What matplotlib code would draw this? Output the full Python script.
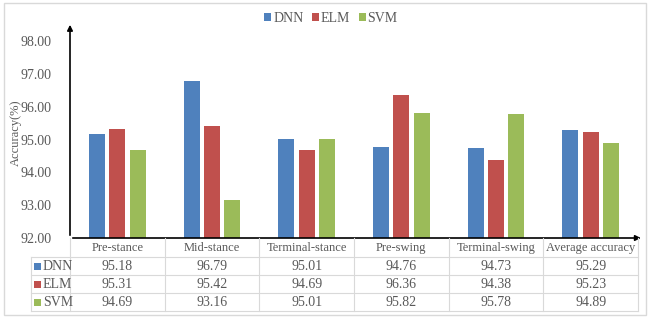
import matplotlib.pyplot as plt
from matplotlib.patches import Rectangle, Patch
from matplotlib.lines import Line2D

# data
phases = ["Pre-stance", "Mid-stance", "Terminal-stance", "Pre-swing", "Terminal-swing", "Average accuracy"]
models = ["DNN", "ELM", "SVM"]
dnn = [95.18, 96.79, 95.01, 94.76, 94.73, 95.29]
elm = [95.31, 95.42, 94.69, 96.36, 94.38, 95.23]
svm = [94.69, 93.16, 95.01, 95.82, 95.78, 94.89]
yticks = [92, 93, 94, 95, 96, 97, 98]

colors = ["#4F81BD", "#C0504D", "#9BBB59"]
txt = "#595959"
grid = "#D9D9D9"

plt.rcParams["font.family"] = ["Liberation Serif", "DejaVu Serif"]

W, H = 650, 319
fig = plt.figure(figsize=(W / 100, H / 100), dpi=100)


def fx(x):
    return x / W


def fy(y):
    return 1 - y / H


# outer frame
fig.patches.append(Rectangle((fx(4), fy(315)), fx(642), 312 / H, transform=fig.transFigure,
                             fill=False, edgecolor=grid, linewidth=1))

ax_l, ax_r, ax_t, ax_b = 70, 638, 22, 238
ax = fig.add_axes([fx(ax_l), fy(ax_b), fx(ax_r - ax_l), (ax_b - ax_t) / H])

series = [dnn, elm, svm]
offsets = [-0.215, 0.0, 0.215]
for vals, off, c in zip(series, offsets, colors):
    ax.bar([i + off for i in range(len(phases))], [v - 92 for v in vals], bottom=92,
           width=0.17, color=c, edgecolor="none")

ax.set_xlim(-0.5, len(phases) - 0.5)
ax.set_ylim(92, 98.58)
ax.set_yticks(yticks)
ax.set_yticklabels([f"{t:.2f}" for t in yticks])
ax.set_xticks([])
ax.tick_params(axis="y", length=0, labelsize=10, labelcolor=txt, pad=13)
for s in ax.spines.values():
    s.set_visible(False)
ax.patch.set_alpha(0)

# arrow axes
ax.annotate("", xy=(0, 1.0), xytext=(0, 0), xycoords="axes fraction",
            arrowprops=dict(arrowstyle="-|>", color="black", lw=1.2, mutation_scale=8))
ax.annotate("", xy=(1.01, 0), xytext=(0, 0), xycoords="axes fraction",
            arrowprops=dict(arrowstyle="-|>", color="black", lw=1.2, mutation_scale=8))

fig.text(fx(16), fy(133), "Accuracy(%)", rotation=90, ha="center", va="center",
         fontsize=9, color=txt)

# data table
col_w = (ax_r - ax_l) / len(phases)
row_lines = [238, 257, 275, 293, 311]
lab_l = 31
tf = fig.transFigure
for k, y in enumerate(row_lines[1:]):
    fig.add_artist(Line2D([fx(lab_l), fx(ax_r)], [fy(y), fy(y)], transform=tf, color=grid, lw=0.8))
fig.add_artist(Line2D([fx(lab_l), fx(lab_l)], [fy(257), fy(311)], transform=tf, color=grid, lw=0.8))
for j in range(len(phases) + 1):
    x = ax_l + j * col_w
    fig.add_artist(Line2D([fx(x), fx(x)], [fy(238), fy(311)], transform=tf, color=grid, lw=0.8))

for j, name in enumerate(phases):
    cx = ax_l + (j + 0.5) * col_w
    fig.text(fx(cx), fy(248), name, ha="center", va="center", fontsize=9, color=txt)
    for i, vals in enumerate(series):
        cy = (row_lines[i + 1] + row_lines[i + 2]) / 2
        fig.text(fx(cx), fy(cy), f"{vals[j]:.2f}", ha="center", va="center", fontsize=10, color=txt)

for i, (m, c) in enumerate(zip(models, colors)):
    cy = (row_lines[i + 1] + row_lines[i + 2]) / 2
    fig.patches.append(Rectangle((fx(34), fy(cy + 3.5)), fx(7), 7 / H, transform=tf,
                                 facecolor=c, edgecolor="none"))
    fig.text(fx(43), fy(cy), m, ha="left", va="center", fontsize=10, color=txt)

# legend
handles = [Patch(facecolor=c, edgecolor="none") for c in colors]
fig.legend(handles, models, loc="center", bbox_to_anchor=(fx(331), fy(18)), ncol=3,
           frameon=False, fontsize=10, handlelength=0.5, handleheight=0.5,
           handletextpad=0.15, columnspacing=0.6, labelcolor=txt)

fig.savefig("out.png", dpi=100)
